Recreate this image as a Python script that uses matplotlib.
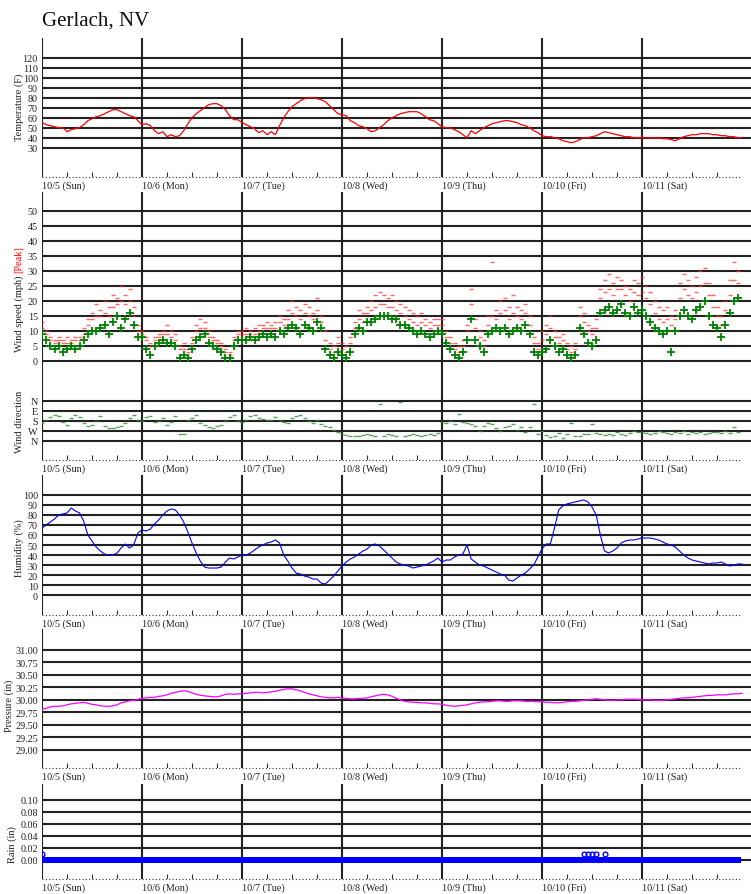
import numpy as np
import matplotlib
matplotlib.use('Agg')
import matplotlib.pyplot as plt

plt.rcParams['font.family'] = ['Liberation Serif', 'DejaVu Serif']

# ---------------- data (hourly readings, 7 days) ----------------
title = "Gerlach, NV"
day_labels = ["10/5 (Sun)", "10/6 (Mon)", "10/7 (Tue)", "10/8 (Wed)",
              "10/9 (Thu)", "10/10 (Fri)", "10/11 (Sat)"]

temp_f = [
    55, 53, 52, 51, 50, 50, 46, 48, 49, 50, 53, 57, 59, 61, 62, 64, 66, 68, 68, 66, 64, 62, 61, 57,
    53, 54, 52, 47, 44, 46, 41, 43, 41, 42, 47, 54, 60, 64, 67, 70, 73, 74, 74, 72, 68, 62, 58, 58,
    55, 53, 51, 49, 45, 47, 43, 46, 43, 52, 60, 66, 71, 74, 77, 79, 80, 80, 79, 78, 76, 72, 68, 64,
    63, 62, 57, 55, 52, 51, 49, 46, 47, 50, 53, 57, 60, 62, 64, 65, 66, 66, 66, 64, 61, 58, 57, 54,
    51, 50, 50, 48, 46, 43, 40, 47, 44, 47, 50, 52, 54, 55, 56, 57, 57, 56, 55, 53, 52, 50, 47, 45,
    42, 41, 41, 40, 39, 37, 36, 35, 36, 38, 40, 40, 41, 42, 44, 46, 45, 44, 43, 42, 41, 41, 40, 40,
    40, 40, 40, 40, 40, 39, 39, 38, 37, 39, 41, 42, 43, 43, 44, 44, 44, 43, 43, 42, 42, 41, 41, 40,
    40]

wind_mph = [
    9, 7, 5, 4, 5, 3, 4, 5, 4, 5, 7, 9, 10, 10, 11, 12, 9, 13, 15, 11, 14, 16, 12, 8,
    8, 4, 2, 5, 6, 7, 6, 6, 5, 1, 2, 1, 4, 7, 8, 9, 6, 5, 4, 3, 1, 1, 5, 7,
    7, 7, 8, 7, 8, 9, 8, 9, 8, 10, 9, 11, 12, 11, 9, 12, 11, 10, 13, 11, 4, 2, 1, 3,
    2, 1, 3, 9, 11, 10, 13, 13, 14, 15, 15, 15, 14, 14, 12, 12, 11, 10, 9, 10, 9, 8, 9, 10,
    9, 6, 4, 2, 1, 3, 7, 14, 7, 5, 3, 9, 10, 11, 10, 11, 9, 10, 11, 10, 12, 9, 3, 2,
    3, 4, 7, 5, 3, 4, 2, 1, 2, 11, 9, 6, 5, 7, 16, 17, 18, 16, 17, 19, 16, 15, 18, 16,
    17, 15, 13, 11, 10, 9, 10, 3, 10, 15, 17, 15, 14, 17, 18, 20, 15, 12, 11, 8, 12, 16, 20, 21]

# highest gust in each hour
peak_mph = [
    13, 10, 8, 7, 8, 7, 8, 7, 8, 8, 11, 14, 16, 19, 17, 20, 18, 22, 21, 25, 22, 24, 18, 12,
    10, 8, 6, 8, 9, 10, 12, 10, 9, 5, 6, 4, 8, 12, 14, 13, 10, 8, 7, 6, 4, 3, 8, 10,
    10, 11, 10, 11, 12, 12, 13, 12, 13, 15, 14, 17, 20, 18, 17, 19, 18, 16, 21, 15, 10, 6, 5, 8,
    6, 5, 8, 13, 17, 16, 18, 20, 22, 23, 22, 21, 22, 20, 19, 18, 17, 16, 15, 16, 14, 13, 14, 14,
    14, 10, 8, 6, 5, 7, 12, 24, 14, 10, 7, 15, 33, 17, 20, 21, 18, 22, 18, 17, 19, 15, 8, 6,
    10, 12, 15, 10, 8, 9, 6, 5, 6, 18, 16, 12, 11, 14, 24, 27, 29, 26, 28, 27, 25, 24, 27, 26,
    28, 25, 23, 20, 18, 17, 18, 15, 17, 26, 29, 27, 25, 28, 30, 31, 26, 22, 18, 15, 20, 27, 33, 30]

# typical gust in each hour
peak2_mph = [
    11, 9, 7, 6, 7, 6, 6, 6, 7, 7, 9, 12, 14, 15, 15, 16, 15, 18, 19, 20, 19, 20, 15, 10,
    9, 7, 5, 7, 8, 9, 9, 8, 7, 4, 4, 3, 6, 10, 11, 11, 8, 7, 6, 5, 3, 2, 7, 9,
    9, 9, 9, 9, 10, 11, 11, 11, 11, 13, 12, 14, 16, 15, 14, 16, 15, 14, 17, 13, 7, 4, 3, 6,
    4, 3, 6, 11, 14, 13, 16, 17, 18, 19, 19, 18, 18, 17, 16, 15, 14, 13, 12, 13, 12, 11, 12, 12,
    12, 8, 6, 4, 3, 5, 10, 19, 11, 8, 5, 12, 15, 14, 16, 17, 14, 16, 15, 14, 16, 12, 6, 4,
    7, 9, 11, 8, 6, 7, 4, 3, 4, 15, 13, 10, 9, 11, 21, 23, 24, 22, 24, 24, 22, 20, 23, 22,
    23, 21, 19, 16, 14, 13, 14, 12, 14, 21, 24, 22, 21, 23, 25, 26, 22, 18, 15, 12, 17, 22, 27, 26]

wind_dir_deg = [
    200, 170, 150, 130, 140, 190, 215, 160, 130, 150, 200, 230, 220, 180, 140, 230, 250, 245, 235, 230, 200, 160, 130, 175,
    185, 150, 140, 190, 180, 160, 215, 190, 140, 300, 300, 170, 160, 130, 200, 220, 240, 245, 225, 215, 180, 150, 130, 180,
    190, 170, 140, 130, 160, 165, 175, 170, 150, 175, 190, 200, 160, 140, 130, 155, 180, 200, 175, 210, 230, 240, 260, 280,
    300, 310, 320, 315, 320, 310, 300, 310, 315, 30, 320, 300, 310, 320, 15, 320, 310, 300, 305, 320, 310, 300, 305, 295,
    190, 200, 185, 210, 120, 190, 200, 210, 230, 270, 230, 200, 210, 250, 270, 240, 230, 210, 260, 240, 280, 240, 30, 300,
    270, 310, 330, 320, 290, 340, 300, 200, 320, 315, 300, 300, 210, 295, 300, 310, 300, 305, 280, 300, 310, 290, 270, 285,
    280, 290, 300, 290, 270, 285, 295, 300, 280, 290, 275, 300, 285, 290, 280, 300, 290, 285, 280, 295, 275, 290, 240, 285]

humidity_pct = [
    67, 70, 73, 76, 80, 81, 82, 87, 84, 82, 74, 60, 54, 48, 44, 41, 40, 40, 42, 47, 51, 47, 50, 62,
    65, 64, 66, 71, 75, 80, 84, 86, 85, 80, 73, 63, 52, 42, 34, 28, 27, 27, 27, 28, 33, 37, 36, 38,
    40, 40, 42, 45, 48, 50, 52, 53, 55, 52, 40, 34, 27, 22, 21, 19, 18, 16, 16, 12, 11, 15, 19, 24,
    29, 33, 36, 38, 41, 44, 46, 50, 51, 49, 45, 41, 37, 33, 31, 30, 29, 27, 28, 29, 30, 32, 34, 37,
    33, 35, 35, 38, 40, 41, 50, 36, 33, 30, 29, 27, 25, 23, 21, 20, 15, 14, 17, 20, 22, 26, 30, 38,
    46, 51, 51, 67, 85, 89, 91, 92, 93, 94, 95, 93, 88, 80, 60, 44, 42, 44, 47, 52, 54, 55, 55, 56,
    57, 57, 57, 56, 55, 53, 51, 50, 48, 44, 40, 37, 35, 34, 33, 32, 31, 32, 32, 33, 31, 29, 30, 31,
    31]

pressure_in = [
    29.81, 29.83, 29.86, 29.87, 29.87, 29.88, 29.90, 29.92, 29.93, 29.94, 29.95, 29.93,
    29.91, 29.90, 29.88, 29.87, 29.87, 29.88, 29.90, 29.94, 29.96, 29.98, 29.99, 30.01,
    30.03, 30.04, 30.05, 30.05, 30.07, 30.08, 30.10, 30.13, 30.15, 30.17, 30.18, 30.17,
    30.14, 30.11, 30.09, 30.08, 30.07, 30.06, 30.06, 30.08, 30.11, 30.12, 30.11, 30.12,
    30.12, 30.13, 30.14, 30.15, 30.15, 30.14, 30.15, 30.16, 30.17, 30.19, 30.21, 30.22,
    30.22, 30.20, 30.18, 30.15, 30.12, 30.10, 30.08, 30.06, 30.05, 30.04, 30.04, 30.05,
    30.04, 30.03, 30.02, 30.02, 30.03, 30.03, 30.04, 30.06, 30.08, 30.10, 30.11, 30.10,
    30.07, 30.03, 30.00, 29.97, 29.96, 29.95, 29.95, 29.94, 29.94, 29.93, 29.92, 29.92,
    29.91, 29.89, 29.88, 29.87, 29.88, 29.89, 29.90, 29.92, 29.94, 29.95, 29.96, 29.96,
    29.97, 29.98, 29.98, 29.97, 29.97, 29.98, 29.98, 29.98, 29.97, 29.97, 29.97, 29.96,
    29.96, 29.95, 29.95, 29.94, 29.94, 29.95, 29.96, 29.97, 29.97, 29.98, 29.99, 30.00,
    30.01, 30.02, 30.01, 30.00, 29.99, 29.99, 30.00, 30.00, 30.01, 30.01, 30.01, 30.01,
    30.00, 30.00, 30.00, 29.99, 29.99, 29.99, 30.00, 30.01, 30.02, 30.03, 30.04, 30.04,
    30.05, 30.06, 30.07, 30.08, 30.09, 30.09, 30.10, 30.10, 30.10, 30.11, 30.12, 30.12,
    30.13]

rain_in = [
    0.01, 0.00, 0.00, 0.00, 0.00, 0.00, 0.00, 0.00, 0.00, 0.00, 0.00, 0.00, 0.00, 0.00, 0.00, 0.00, 0.00, 0.00, 0.00, 0.00, 0.00, 0.00, 0.00, 0.00,
    0.00, 0.00, 0.00, 0.00, 0.00, 0.00, 0.00, 0.00, 0.00, 0.00, 0.00, 0.00, 0.00, 0.00, 0.00, 0.00, 0.00, 0.00, 0.00, 0.00, 0.00, 0.00, 0.00, 0.00,
    0.00, 0.00, 0.00, 0.00, 0.00, 0.00, 0.00, 0.00, 0.00, 0.00, 0.00, 0.00, 0.00, 0.00, 0.00, 0.00, 0.00, 0.00, 0.00, 0.00, 0.00, 0.00, 0.00, 0.00,
    0.00, 0.00, 0.00, 0.00, 0.00, 0.00, 0.00, 0.00, 0.00, 0.00, 0.00, 0.00, 0.00, 0.00, 0.00, 0.00, 0.00, 0.00, 0.00, 0.00, 0.00, 0.00, 0.00, 0.00,
    0.00, 0.00, 0.00, 0.00, 0.00, 0.00, 0.00, 0.00, 0.00, 0.00, 0.00, 0.00, 0.00, 0.00, 0.00, 0.00, 0.00, 0.00, 0.00, 0.00, 0.00, 0.00, 0.00, 0.00,
    0.00, 0.00, 0.00, 0.00, 0.00, 0.00, 0.00, 0.00, 0.00, 0.00, 0.01, 0.01, 0.01, 0.01, 0.00, 0.01, 0.00, 0.00, 0.00, 0.00, 0.00, 0.00, 0.00, 0.00,
    0.00, 0.00, 0.00, 0.00, 0.00, 0.00, 0.00, 0.00, 0.00, 0.00, 0.00, 0.00, 0.00, 0.00, 0.00, 0.00, 0.00, 0.00, 0.00, 0.00, 0.00, 0.00, 0.00, 0.00]

temp_ticks = [30, 40, 50, 60, 70, 80, 90, 100, 110, 120]
wind_ticks = [0, 5, 10, 15, 20, 25, 30, 35, 40, 45, 50]
dir_ticks = [0, 90, 180, 270, 360]
dir_labels = ["N", "E", "S", "W", "N"]
hum_ticks = [0, 10, 20, 30, 40, 50, 60, 70, 80, 90, 100]
pres_ticks = [29.00, 29.25, 29.50, 29.75, 30.00, 30.25, 30.50, 30.75, 31.00]
rain_ticks = [0.00, 0.02, 0.04, 0.06, 0.08, 0.10]

# ---------------- layout ----------------
W, H = 751, 895
fig = plt.figure(figsize=(W / 100, H / 100), dpi=100)
XMAX = 7.09
GRID = '#222222'
TXT = '#222222'
LEFT = 42


def make_axes(top, bottom):
    return fig.add_axes([LEFT / W, 1 - bottom / H, (W - LEFT) / W, (bottom - top) / H])


def setup(ax, top, bottom, ylim, yticks, ylabels, baseline=True):
    ax.set_xlim(0, XMAX)
    ax.set_ylim(*ylim)
    ax.set_facecolor('none')
    for s in ax.spines.values():
        s.set_visible(False)
    ax.set_yticks(yticks)
    ax.set_yticklabels(ylabels)
    ax.tick_params(axis='y', length=0, pad=3, labelsize=7.3, colors=TXT)
    ax.hlines(yticks, 0, XMAX, colors=GRID, lw=1.5, zorder=1)
    tr = ax.get_xaxis_transform()
    ax.vlines(range(7), 0, 1, transform=tr, colors=GRID, lw=1.5, zorder=1)
    if baseline:
        hpx = bottom - top
        ax.plot([0, 6.98], [0, 0], transform=tr, ls=(0, (1, 2)), color='#333333',
                lw=0.8, clip_on=False, zorder=1)
        minor = [d + q for d in range(7) for q in (0.25, 0.5, 0.75)]
        ax.vlines(minor, 0, 5.0 / hpx, transform=tr, colors='#333333', lw=0.8, zorder=1)
        ax.set_xticks(range(7))
        ax.set_xticklabels(day_labels)
        ax.tick_params(axis='x', length=0, pad=2.5, labelsize=7.3, colors=TXT)
        for lbl in ax.get_xticklabels():
            lbl.set_horizontalalignment('left')
    else:
        ax.set_xticks([])


t_line = np.arange(len(temp_f)) / 24.0
t_hour = np.arange(len(wind_mph)) / 24.0

fig.text(LEFT / W, 1 - 25.5 / H, title, fontsize=15, ha='left', va='baseline', color='#111111')

# Temperature
ax = make_axes(39.3, 177.5)
setup(ax, 39.3, 177.5, (1.2, 139.4), temp_ticks, [str(v) for v in temp_ticks])
ax.plot(t_line, temp_f, color='red', lw=0.9, zorder=3)
fig.text(19 / W, 1 - 107 / H, "Temperature (F)", rotation=90, fontsize=7.5,
         ha='center', va='center', color=TXT)

# Wind speed
ax = make_axes(193.3, 392)
setup(ax, 193.3, 392, (-10, 56.1), wind_ticks, [str(v) for v in wind_ticks], baseline=False)
ax.plot(t_hour, peak_mph, ls='none', marker='_', ms=2.2, mew=1.0, color='#ff3030', alpha=0.75, zorder=3)
ax.plot(t_hour, peak2_mph, ls='none', marker='_', ms=2.2, mew=1.0, color='#ff3030', alpha=0.75, zorder=3)
ax.plot(t_hour, wind_mph, ls='none', marker='+', ms=6, mew=1.3, color='#008000', zorder=4)
fig.text(19 / W, 1 - 314 / H, "Wind speed (mph)", rotation=90, fontsize=7.5,
         ha='center', va='center', color=TXT)
fig.text(19 / W, 1 - 259.5 / H, "[Peak]", rotation=90, fontsize=7.5,
         ha='center', va='center', color='red')

# Wind direction
ax = make_axes(392, 461)
setup(ax, 392, 461, (533.7, -87.3), dir_ticks, dir_labels)
ax.plot(t_hour, wind_dir_deg, ls='none', marker='_', ms=3.5, mew=1.0, color='#2e8b2e', alpha=0.8, zorder=3)
fig.text(20 / W, 1 - 422 / H, "Wind direction", rotation=90, fontsize=7.5,
         ha='center', va='center', color=TXT)

# Humidity
ax = make_axes(476, 615.7)
setup(ax, 476, 615.7, (-19.6, 119.9), hum_ticks, [str(v) for v in hum_ticks])
ax.plot(t_line, humidity_pct, color='blue', lw=0.8, zorder=3)
fig.text(19 / W, 1 - 548 / H, "Humidity (%)", rotation=90, fontsize=7.5,
         ha='center', va='center', color=TXT)

# Pressure
ax = make_axes(630, 769.3)
setup(ax, 630, 769.3, (28.627, 31.42), pres_ticks, ["%.2f" % v for v in pres_ticks])
ax.plot(t_line, pressure_in, color='magenta', lw=0.9, zorder=3)
fig.text(9 / W, 1 - 706 / H, "Pressure (in)", rotation=90, fontsize=7.5,
         ha='center', va='center', color=TXT)

# Rain
ax = make_axes(785, 880)
setup(ax, 785, 880, (-0.0322, 0.1262), rain_ticks, ["%.2f" % v for v in rain_ticks])
rain_arr = np.array(rain_in)
dry = rain_arr == 0
# continuous zero-rain trace over the observation period
ax.hlines(0.0, t_hour[0], t_hour[-1], colors='blue', lw=4.2, zorder=3)
ax.plot(t_hour[dry], rain_arr[dry], ls='none', marker='s', ms=4.0, mew=0,
        mfc='blue', zorder=3)
ax.plot(t_hour[~dry], rain_arr[~dry], ls='none', marker='o', ms=3.4, mew=1.0,
        mfc='none', mec='blue', zorder=4)
fig.text(12 / W, 1 - 845 / H, "Rain (in)", rotation=90, fontsize=7.5,
         ha='center', va='center', color=TXT)

fig.savefig('out.png', dpi=100)
